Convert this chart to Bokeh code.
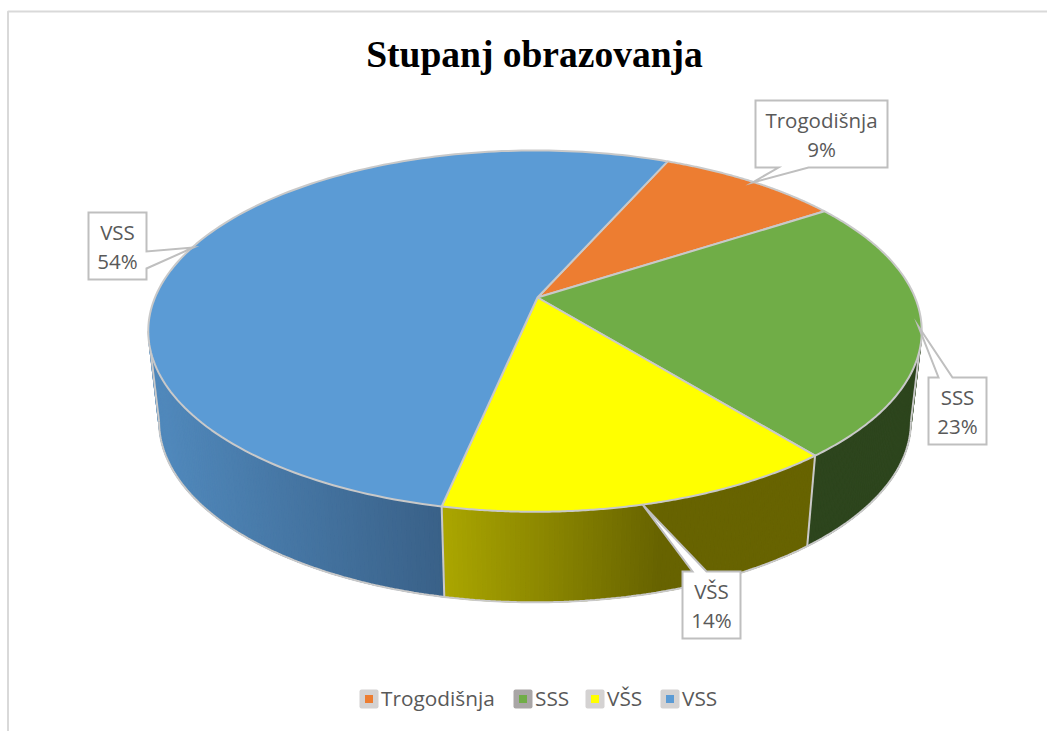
import numpy as np
from bokeh.plotting import figure
from bokeh.models import Range1d
from bokeh.core.properties import value
from bokeh.embed import file_html
from bokeh.resources import INLINE

# ---- data
categories = ["Trogodišnja", "SSS", "VŠS", "VSS"]
shares = [9.0, 23.0, 14.0, 54.0]
share_labels = ["9%", "23%", "14%", "54%"]
title_text = "Stupanj obrazovanja"

# ---- styles
top_colors = ["#ED7D31", "#70AD47", "#FFFF00", "#5B9BD5"]
edge_color = "#C9C9C9"
label_color = "#595959"
frame_color = "#D9D9D9"
swatch_backs = ["#D4D2D2", "#A9A6A6", "#D4D2D2", "#D4D2D2"]

# ---- layout: perspective of the disc, in picture pixels
START_DEG = 24.1
WARP_DEG = 1.9
CX, CY = 534.5, 297.0
APEX_X = 537.0
R, S, K = 380.0, 174.4, 0.186
DEPTH, SHRINK = 90.5, 0.972
W, H = 1047, 731

def view_angle(t):
    # angle on the disc as the 3D view shows it
    return START_DEG + t + WARP_DEG * np.sin(np.radians(t) / 2)

def top_pt(deg):
    t = np.radians(np.asarray(deg, float))
    u, v = np.sin(t), np.cos(t)
    d = 1 + K * v
    return CX + R * u / d, CY - S * v / d

def bottom_pt(deg):
    x, y = top_pt(deg)
    return CX + SHRINK * (x - CX), y + DEPTH

def mix(a, b, f):
    f = min(max(f, 0.0), 1.0)
    c = [int(round(a[i] + (b[i] - a[i]) * f)) for i in range(3)]
    return "#%02x%02x%02x" % tuple(c)

def wall_color(i, x):
    if i == 3:
        return mix((0x50, 0x88, 0xBB), (0x39, 0x60, 0x87), (x - 160) / 285)
    if i == 2:
        return mix((0xAA, 0xA5, 0x00), (0x67, 0x63, 0x00), (x - 445) / 215)
    if i == 1:
        return "#2D451D"
    return "#8A4A1C"

p = figure(width=W, height=H, x_range=Range1d(0, W), y_range=Range1d(H, 0),
           x_axis_type=None, y_axis_type=None, toolbar_location=None,
           output_backend="svg", min_border=0, outline_line_color=None,
           background_fill_color="white", border_fill_color="white")
p.grid.visible = False

# chart frame
p.line([7.5, 7.5, W], [H, 11, 11], line_color=frame_color, line_width=2)

# slice limits
fr = np.cumsum([0.0] + shares) / sum(shares) * 360
a0 = fr[:-1]
a1 = fr[1:]

# side wall: visible part of the rim
vis0 = np.degrees(np.arccos(-K))
vis1 = 360 - vis0
for i in range(4):
    lo, hi = max(view_angle(a0[i]), vis0 + 3), min(view_angle(a1[i]), vis1 - 3)
    if hi <= lo:
        continue
    n = max(2, int((hi - lo) / 0.6))
    th = np.linspace(lo, hi, n + 1)
    xs, ys, cs = [], [], []
    for j in range(n):
        tx0, ty0 = top_pt(th[j]); tx1, ty1 = top_pt(th[j + 1])
        bx0, by0 = bottom_pt(th[j]); bx1, by1 = bottom_pt(th[j + 1])
        xs.append([tx0, tx1, bx1, bx0]); ys.append([ty0, ty1, by1, by0])
        cs.append(wall_color(i, (tx0 + tx1) / 2))
    p.patches(xs, ys, fill_color=cs, line_color=cs, line_width=1.2)

th = np.linspace(vis0, vis1, 240)
bx, by = bottom_pt(th)
p.line(bx, by, line_color=edge_color, line_width=2)
for e in [vis0, vis1]:
    tx, ty = top_pt(e); b2x, b2y = bottom_pt(e)
    p.line([tx, b2x], [ty, b2y], line_color=edge_color, line_width=2)
for e in view_angle(a1[:3]):
    if vis0 < e < vis1:
        tx, ty = top_pt(e); b2x, b2y = bottom_pt(e)
        p.line([tx, b2x], [ty, b2y], line_color=edge_color, line_width=2)

# top face
for i in range(4):
    th = view_angle(np.linspace(a0[i], a1[i], 160))
    x, y = top_pt(th)
    p.patch(np.r_[APEX_X, x], np.r_[CY, y], fill_color=top_colors[i],
            line_color=edge_color, line_width=2, line_join="round")

# callouts: box (x0, x1, y0, y1), pointer base and tip
callouts = [
    ((755, 887, 100, 167), [(808, 167), (752, 182), (778, 167)]),
    ((928, 986, 377, 444), [(938, 377), (918, 326), (952, 377)]),
    ((682, 740, 571, 638), [(692, 571), (642, 504), (706, 571)]),
    ((88, 146, 212, 279), [(146, 268), (193, 247), (146, 251)]),
]
for i, ((x0, x1, y0, y1), ptr) in enumerate(callouts):
    (a, tip, b) = ptr
    if a[1] == y1 and b[1] == y1:        # pointer on the lower side
        pts = [(x0, y0), (x1, y0), (x1, y1), a, tip, b, (x0, y1)]
    elif a[1] == y0:                     # pointer on the upper side
        pts = [(x0, y0), a, tip, b, (x1, y0), (x1, y1), (x0, y1)]
    else:                                # pointer on the right side
        pts = [(x0, y0), (x1, y0), b, tip, a, (x1, y1), (x0, y1)]
    p.patch([q[0] for q in pts], [q[1] for q in pts], fill_color="white",
            line_color="#BFBFBF", line_width=2, line_join="miter")
    cx = (x0 + x1) / 2
    p.text([cx, cx], [y0 + 19, y0 + 48], text=[categories[i], share_labels[i]],
           text_align="center", text_baseline="middle", text_color=label_color,
           text_font=value("Open Sans"), text_font_size="20.5px")

# title
p.text([534], [54], text=[title_text], text_align="center", text_baseline="middle",
       text_color="black", text_font=value("Liberation Serif"),
       text_font_style="bold", text_font_size="37.5px")

# legend
leg_x = [359, 513, 585, 660]
for i, c in enumerate(categories):
    p.rect([leg_x[i] + 9.5], [698.5], width=19, height=19, fill_color=swatch_backs[i],
           line_color=None, border_radius=2)
    p.rect([leg_x[i] + 9.5], [698.5], width=8, height=8, fill_color=top_colors[i], line_color=None)
    p.text([leg_x[i] + 21.5], [697.5], text=[c], text_align="left", text_baseline="middle",
           text_color=label_color, text_font=value("Open Sans"), text_font_size="20.8px")

open("out.html", "w").write(file_html(p, INLINE))
